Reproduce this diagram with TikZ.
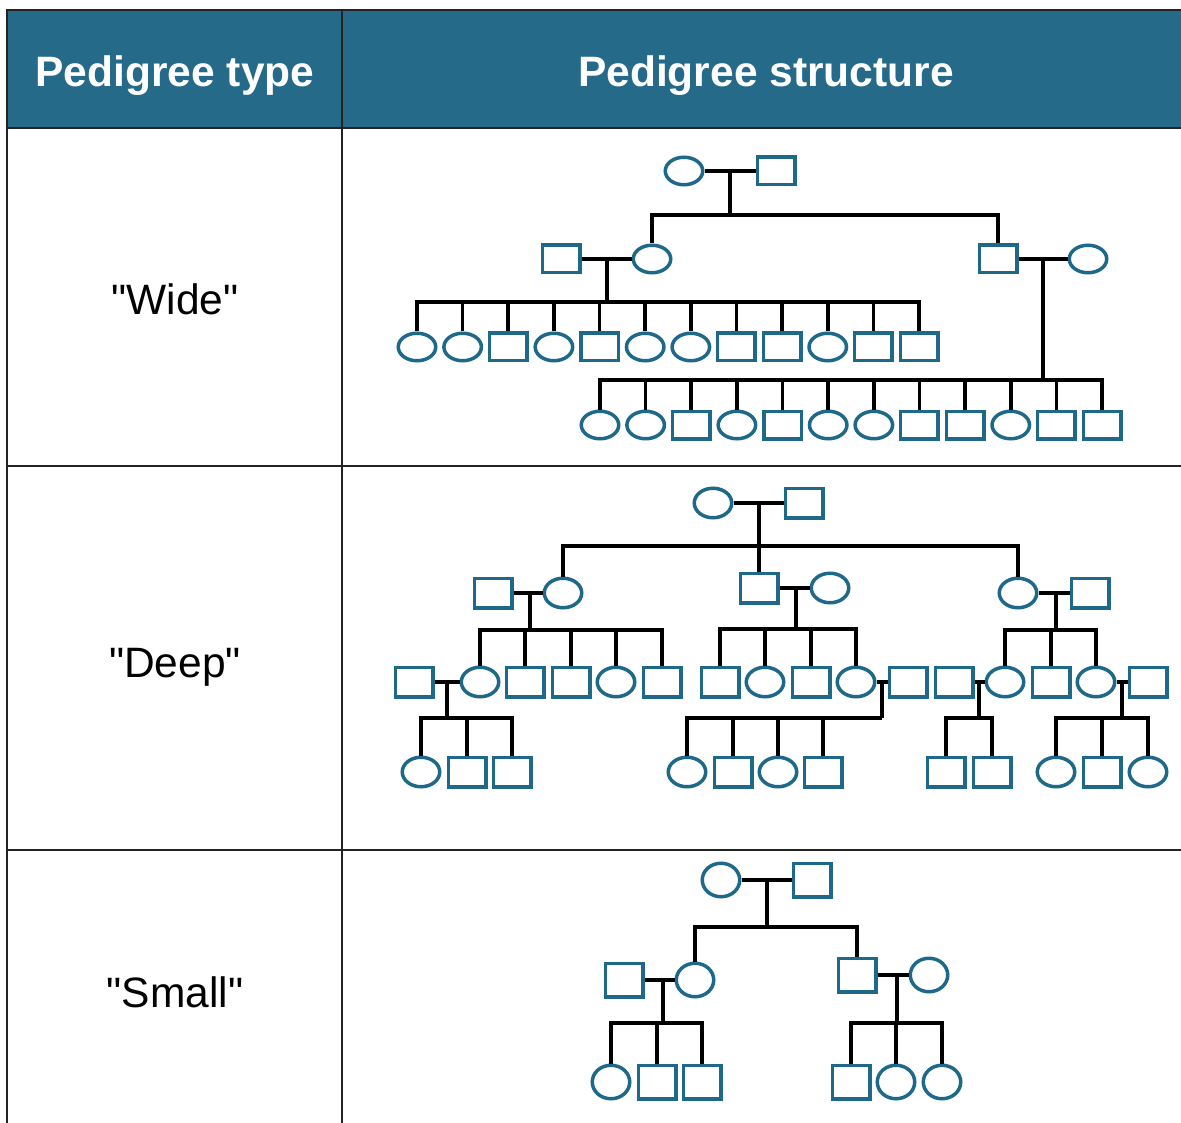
\documentclass[tikz,border=0pt]{standalone}
\usepackage{fontspec}
\setmainfont{Liberation Sans}
\usetikzlibrary{shapes.geometric}
\definecolor{headblue}{RGB}{37,106,137}
\definecolor{symblue}{RGB}{30,104,138}
\definecolor{gridline}{RGB}{35,35,35}
% straight double quote, set as a glyph so that no input mapping curls it
\newcommand\sq{\XeTeXglyph\the\XeTeXcharglyph"22\relax}
\tikzset{
  sym/.style={draw=symblue,line width=3.5pt,inner sep=0pt,minimum width=37.5pt,fill=white},
  fem/.style={sym,ellipse,minimum height=#1}, fem/.default=27.5pt,
  mal/.style={sym,rectangle,minimum height=#1}, mal/.default=27.5pt,
  kin/.style={line width=3.6pt,black},
  gridrule/.style={line width=1.6pt,draw=gridline},
  hd/.style={text=white,font=\bfseries\fontsize{42.5}{51}\selectfont,anchor=base,inner sep=0pt},
  lbl/.style={font=\fontsize{42.5}{51}\selectfont,anchor=base,inner sep=0pt}
}
\begin{document}
\begin{tikzpicture}[x=1pt,y=-1pt]
\useasboundingbox (0,0) rectangle (1181,1123);

% table frame
\fill[headblue] (7,10) rectangle (1181,128);
\draw[gridrule] (1181,10) -- (7,10) -- (7,1123);
\draw[gridrule] (7,128) -- (1181,128);
\draw[gridrule] (7,466) -- (1181,466);
\draw[gridrule] (7,850) -- (1181,850);
\draw[gridrule] (342,10) -- (342,1123);

\node[hd] (h1) at (175,87) {Pedigree type};
\node[hd] (h2) at (766,87) {Pedigree structure};
\node[lbl] (t1) at (175,315) {\sq Wide\sq};
\node[lbl] (t2) at (175,677) {\sq Deep\sq};
\node[lbl] (t3) at (175,1007) {\sq Small\sq};

% ---------------- Wide pedigree ----------------
\node[fem] (w1f) at (684,171) {};
\node[mal] (w1m) at (776,171) {};
\node[mal] (w2a) at (561,259) {};
\node[fem] (w2b) at (652,259) {};
\node[mal] (w2c) at (998,259) {};
\node[fem] (w2d) at (1088,259) {};
\foreach \t [count=\k from 0] in {fem,fem,mal,fem,mal,fem,fem,mal,mal,fem,mal,mal}
  \node[\t] (wa\k) at ({417+45.64*\k},347) {};
\foreach \t [count=\k from 0] in {fem,fem,mal,fem,mal,fem,fem,mal,mal,fem,mal,mal}
  \node[\t] (wb\k) at ({600+45.64*\k},425) {};

\coordinate (w1c) at (730,171);  \coordinate (w1s) at (730,215);
\coordinate (w2ac) at (607,259); \coordinate (w2as) at (607,302);
\coordinate (w2cc) at (1043,259); \coordinate (w2cs) at (1043,380);

\draw[kin] (w1f.east) -- (w1m.west);
\draw[kin] (w1c) -- (w1s);
\draw[kin] (w2b.north) |- (w1s) -| (w2c.north);
\draw[kin] (w2a.east) -- (w2b.west);
\draw[kin] (w2c.east) -- (w2d.west);
\draw[kin] (w2ac) -- (w2as);
\draw[kin] (w2cc) -- (w2cs);
\draw[kin] (wa0.north) |- (w2as) -| (wa11.north);
\foreach \k in {1,...,10} \draw[kin] (wa\k.north) -- (wa\k.north |- w2as);
\draw[kin] (wb0.north) |- (w2cs) -| (wb11.north);
\foreach \k in {1,...,10} \draw[kin] (wb\k.north) -- (wb\k.north |- w2cs);

% ---------------- Deep pedigree ----------------
\tikzset{fem/.default=29.5pt, mal/.default=29.5pt}
\node[fem] (d1f) at (713,503) {};
\node[mal] (d1m) at (804,503) {};
\node[mal] (d2a) at (493,593) {};
\node[fem] (d2b) at (563,593) {};
\node[mal] (d2c) at (759,588) {};
\node[fem] (d2d) at (830,588) {};
\node[fem] (d2e) at (1018,593) {};
\node[mal] (d2f) at (1090,593) {};
% third generation
\node[mal] (d3a) at (414,682) {};
\node[fem] (d3b) at (480,682) {};
\node[mal] (d3c) at (525,682) {};
\node[mal] (d3d) at (571,682) {};
\node[fem] (d3e) at (616,682) {};
\node[mal] (d3f) at (662,682) {};
\node[mal] (d3g) at (720,682) {};
\node[fem] (d3h) at (765,682) {};
\node[mal] (d3i) at (811,682) {};
\node[fem] (d3j) at (856,682) {};
\node[mal] (d3k) at (908,682) {};
\node[mal] (d3l) at (954,682) {};
\node[fem] (d3m) at (1005,682) {};
\node[mal] (d3n) at (1051,682) {};
\node[fem] (d3o) at (1096,682) {};
\node[mal] (d3p) at (1148,682) {};
% fourth generation
\node[fem] (d4a) at (421,772) {};
\node[mal] (d4b) at (467,772) {};
\node[mal] (d4c) at (512,772) {};
\node[fem] (d4d) at (687,772) {};
\node[mal] (d4e) at (733,772) {};
\node[fem] (d4f) at (778,772) {};
\node[mal] (d4g) at (823,772) {};
\node[mal] (d4h) at (946,772) {};
\node[mal] (d4i) at (992,772) {};
\node[fem] (d4j) at (1056,772) {};
\node[mal] (d4k) at (1102,772) {};
\node[fem] (d4l) at (1148,772) {};

\coordinate (d1c) at (759,503);  \coordinate (d1s) at (759,546);
\coordinate (d2ac) at (530,593); \coordinate (d2as) at (530,630);
\coordinate (d2cc) at (796,588); \coordinate (d2cs) at (796,629);
\coordinate (d2ec) at (1056,593); \coordinate (d2es) at (1056,630);
\coordinate (d3ac) at (447,682); \coordinate (d3as) at (447,718);
\coordinate (d3jc) at (882,682); \coordinate (d3js) at (882,718);
\coordinate (d3lc) at (979,682); \coordinate (d3ls) at (979,718);
\coordinate (d3oc) at (1122,682); \coordinate (d3os) at (1122,718);

\draw[kin] (d1f.east) -- (d1m.west);
\draw[kin] (d1c) -- (d2c.north);
\draw[kin] (d2b.north) |- (d1s) -| (d2e.north);
\draw[kin] (d2a.east) -- (d2b.west);
\draw[kin] (d2c.east) -- (d2d.west);
\draw[kin] (d2e.east) -- (d2f.west);
\draw[kin] (d2ac) -- (d2as);
\draw[kin] (d2cc) -- (d2cs);
\draw[kin] (d2ec) -- (d2es);
\draw[kin] (d3b.north) |- (d2as) -| (d3f.north);
\foreach \n in {d3c,d3d,d3e} \draw[kin] (\n.north) -- (\n.north |- d2as);
\draw[kin] (d3g.north) |- (d2cs) -| (d3j.north);
\foreach \n in {d3h,d3i} \draw[kin] (\n.north) -- (\n.north |- d2cs);
\draw[kin] (d3m.north) |- (d2es) -| (d3o.north);
\draw[kin] (d3n.north) -- (d3n.north |- d2es);
% third-generation couples
\draw[kin] (d3a.east) -- (d3b.west);
\draw[kin] (d3j.east) -- (d3k.west);
\draw[kin] (d3l.east) -- (d3m.west);
\draw[kin] (d3o.east) -- (d3p.west);
\draw[kin] (d3ac) -- (d3as);
\draw[kin] (d3jc) -- (d3js);
\draw[kin] (d3lc) -- (d3ls);
\draw[kin] (d3oc) -- (d3os);
\draw[kin] (d4a.north) |- (d3as) -| (d4c.north);
\draw[kin] (d4b.north) -- (d4b.north |- d3as);
\draw[kin] (d4d.north) |- (d3js);
\foreach \n in {d4e,d4f,d4g} \draw[kin] (\n.north) -- (\n.north |- d3js);
\draw[kin] (d4h.north) |- (d3ls) -| (d4i.north);
\draw[kin] (d4j.north) |- (d3os) -| (d4l.north);
\draw[kin] (d4k.north) -- (d4k.north |- d3os);

% ---------------- Small pedigree ----------------
\tikzset{fem/.default=33.5pt, mal/.default=33.5pt}
\node[fem] (s1f) at (721,880) {};
\node[mal] (s1m) at (812,880) {};
\node[mal] (s2a) at (624,980) {};
\node[fem] (s2b) at (695,980) {};
\node[mal] (s2c) at (857,975) {};
\node[fem] (s2d) at (929,975) {};
\node[fem] (s3a) at (611,1082) {};
\node[mal] (s3b) at (657,1082) {};
\node[mal] (s3c) at (702,1082) {};
\node[mal] (s3d) at (851,1082) {};
\node[fem] (s3e) at (896,1082) {};
\node[fem] (s3f) at (942,1082) {};

\coordinate (s1c) at (767,880);  \coordinate (s1s) at (767,927);
\coordinate (s2ac) at (663,980); \coordinate (s2as) at (663,1023);
\coordinate (s2cc) at (897,975); \coordinate (s2cs) at (897,1023);

\draw[kin] (s1f.east) -- (s1m.west);
\draw[kin] (s1c) -- (s1s);
\draw[kin] (s2b.north) |- (s1s) -| (s2c.north);
\draw[kin] (s2a.east) -- (s2b.west);
\draw[kin] (s2c.east) -- (s2d.west);
\draw[kin] (s2ac) -- (s2as);
\draw[kin] (s2cc) -- (s2cs);
\draw[kin] (s3a.north) |- (s2as) -| (s3c.north);
\draw[kin] (s3b.north) -- (s3b.north |- s2as);
\draw[kin] (s3d.north) |- (s2cs) -| (s3f.north);
\draw[kin] (s3e.north) -- (s3e.north |- s2cs);
\end{tikzpicture}
\end{document}
